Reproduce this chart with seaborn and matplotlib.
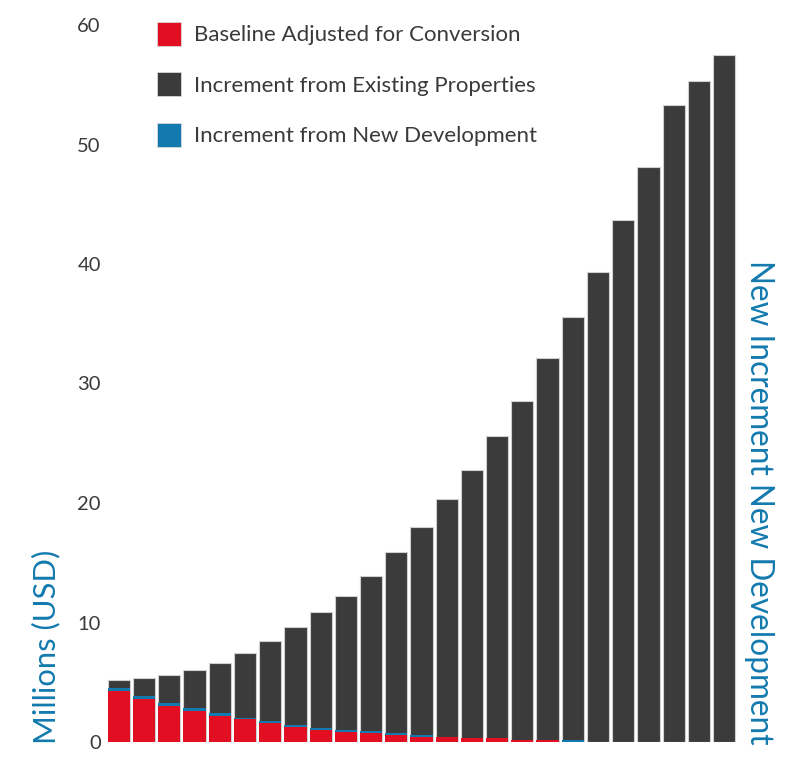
import matplotlib
matplotlib.use("Agg")
import matplotlib.pyplot as plt
import seaborn as sns
import pandas as pd
import numpy as np
from matplotlib.patches import Patch

periods = [f"P{i+1}" for i in range(25)]
baseline = [4.27, 3.57, 2.99, 2.60, 2.15, 1.92, 1.59, 1.25, 1.00, 0.84, 0.73, 0.59, 0.45,
            0.42, 0.33, 0.33, 0.20, 0.20, 0.0, 0.0, 0.0, 0.0, 0.0, 0.0, 0.0]
new_dev = [0.28, 0.25, 0.25, 0.22, 0.25, 0.10, 0.17, 0.14, 0.14, 0.17, 0.17, 0.14, 0.14,
           0.0, 0.0, 0.0, 0.0, 0.0, 0.20, 0.0, 0.0, 0.0, 0.0, 0.0, 0.0]
total = [5.2, 5.38, 5.63, 6.05, 6.6, 7.45, 8.45, 9.6, 10.9, 12.2, 13.9, 15.9, 18.0,
         20.3, 22.8, 25.6, 28.5, 32.1, 35.6, 39.3, 43.7, 48.1, 53.3, 55.3, 57.5]
existing = [t - b - n for t, b, n in zip(total, baseline, new_dev)]
yticks = [0, 10, 20, 30, 40, 50, 60]

labels = ["Baseline Adjusted for Conversion", "Increment from Existing Properties",
          "Increment from New Development"]
RED, DARK, BLUE = "#E20E22", "#3B3B3B", "#137AAF"
TXT = "#3a3a3a"

sns.set_theme(style="white")
plt.rcParams["font.family"] = ["Lato", "DejaVu Sans"]

df = pd.DataFrame({"period": periods, "baseline": baseline, "new_dev": new_dev,
                   "existing": existing})
df["top"] = df["baseline"] + df["new_dev"] + df["existing"]
df["mid"] = df["baseline"] + df["new_dev"]

fig = plt.figure(figsize=(7.91, 7.67), dpi=100)
ax = fig.add_axes([105 / 791, 25 / 767, (738 - 105) / 791, (742 - 25) / 767])

sns.barplot(data=df, x="period", y="top", color=DARK, saturation=1, width=0.88,
            edgecolor="#d0d0d0", linewidth=0.8, ax=ax)
sns.barplot(data=df, x="period", y="mid", color=BLUE, saturation=1, width=0.88,
            linewidth=0, ax=ax)
sns.barplot(data=df, x="period", y="baseline", color=RED, saturation=1, width=0.88,
            linewidth=0, ax=ax)

ax.set_xlim(-0.55, len(periods) - 0.45)
ax.set_ylim(0, 60)
ax.set_yticks(yticks)
ax.set_yticklabels([str(v) for v in yticks], fontsize=14.5, color=TXT)
ax.set_xticks([])
ax.set_xlabel("")
ax.set_ylabel("")
ax.tick_params(axis="y", length=0, pad=3)
for s in ax.spines.values():
    s.set_visible(False)

fig.text(46 / 791, (767 - 744) / 767, "Millions (USD)", rotation=90, ha="center",
         va="bottom", fontsize=22.3, color=BLUE)
fig.text(759 / 791, (767 - 745) / 767, "New Increment New Development", rotation=270,
         ha="center", va="bottom", fontsize=22.7, color=BLUE)

handles = [Patch(facecolor=RED, edgecolor="#d8d8d8", linewidth=0.6),
           Patch(facecolor=DARK, edgecolor="#d8d8d8", linewidth=0.6),
           Patch(facecolor=BLUE, edgecolor="#d8d8d8", linewidth=0.6)]
leg = fig.legend(handles, labels, loc="upper left", bbox_to_anchor=(157 / 791, 1 - 22 / 767),
                 frameon=False, fontsize=16, handlelength=1.08, handleheight=1.29,
                 labelspacing=1.18, handletextpad=0.6, borderpad=0, borderaxespad=0)
for t in leg.get_texts():
    t.set_color(TXT)

fig.savefig("out.png", dpi=100)
